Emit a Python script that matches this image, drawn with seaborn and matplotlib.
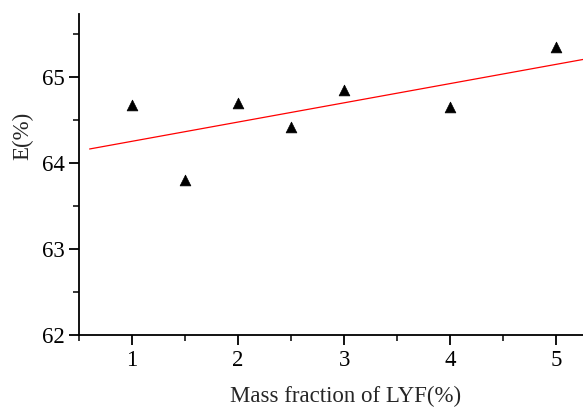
import numpy as np
import pandas as pd
import seaborn as sns
import matplotlib.pyplot as plt
from matplotlib.ticker import MultipleLocator

# data
mass_fraction = [1, 1.5, 2, 2.5, 3, 4, 5]
e_values = [64.67, 63.80, 64.70, 64.42, 64.85, 64.65, 65.35]

sns.set_style('ticks')
plt.rcParams['font.family'] = ['Liberation Serif', 'DejaVu Serif']

df = pd.DataFrame({'x': mass_fraction, 'E': e_values})

fig = plt.figure(figsize=(5.83, 4.07), dpi=100)
ax = fig.add_axes([0.1355, 0.177, 0.8645, 0.7886])

# linear fit
slope, intercept = np.polyfit(df['x'], df['E'], 1)
fit_x = np.linspace(0.6, 5.3, 50)
fit = pd.DataFrame({'x': fit_x, 'E': slope * fit_x + intercept})
sns.lineplot(data=fit, x='x', y='E', color='red', linewidth=0.9, ax=ax)

sns.scatterplot(data=df, x='x', y='E', marker='^', color='black',
                s=60, edgecolor='black', linewidth=0.5, ax=ax, zorder=3)

ax.set_xlim(0.5, 5.25)
ax.set_ylim(62, 65.73)
ax.xaxis.set_major_locator(MultipleLocator(1))
ax.xaxis.set_minor_locator(MultipleLocator(0.5))
ax.yaxis.set_major_locator(MultipleLocator(1))
ax.yaxis.set_minor_locator(MultipleLocator(0.5))
ax.tick_params(which='major', length=7, width=1.3, labelsize=16.5, colors='black')
ax.tick_params(which='minor', length=4, width=1.3)
sns.despine(ax=ax)
for side in ['left', 'bottom']:
    ax.spines[side].set_linewidth(1.3)
    ax.spines[side].set_color('black')

ax.set_xlabel('Mass fraction of LYF(%)', fontsize=16.5)
ax.set_ylabel('E(%)', fontsize=16.5)
ax.xaxis.set_label_coords(0.528, -0.16)
ax.yaxis.set_label_coords(-0.09, 0.62)

plt.savefig('out.png', dpi=100)
